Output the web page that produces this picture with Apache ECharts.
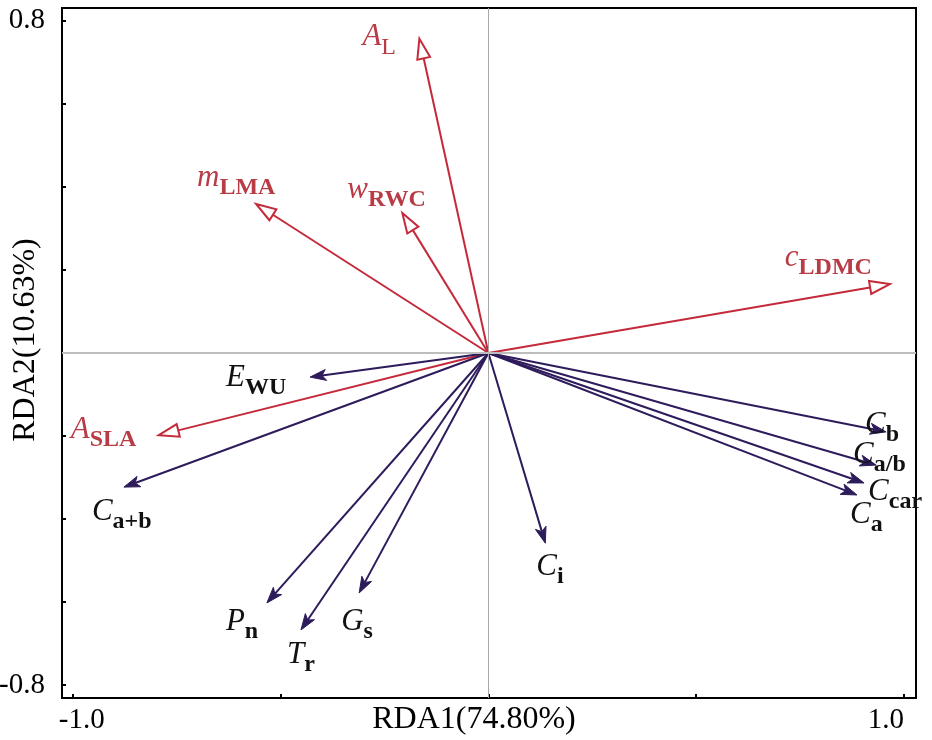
<!DOCTYPE html>
<html><head><meta charset="utf-8">
<script src="https://cdn.jsdelivr.net/npm/echarts@6/dist/echarts.min.js"></script>
<style>html,body{margin:0;padding:0;background:#fff}#c{width:932px;height:740px}</style>
</head><body><div id="c"></div>
<script>
// Environmental (red) vectors
const envMain = ['A','m','w','c','A'];
const envSub = ['L','LMA','RWC','LDMC','SLA'];
const envX = [-0.166,-0.559,-0.207,0.966,-0.793];
const envY = [0.757,0.359,0.337,0.166,-0.198];
// Response (purple) vectors
const respMain = ['E','C','P','T','G','C','C','C','C','C'];
const respSub = ['WU','a+b','n','r','s','i','b','a/b','car','a'];
const respX = [-0.429,-0.877,-0.533,-0.451,-0.311,0.137,0.957,0.933,0.904,0.887];
const respY = [-0.058,-0.323,-0.602,-0.667,-0.578,-0.458,-0.190,-0.270,-0.313,-0.342];
// Axis ticks
const xTicks = [-1,-0.5,0,0.5,1];
const xTickLabels = [-1,1];
const yTicks = [-0.8,-0.6,-0.4,-0.2,0,0.2,0.4,0.6,0.8];
const yTickLabels = [-0.8,0.8];
const xName = 'RDA1(74.80%)';
const yName = 'RDA2(10.63%)';

// layout: label offsets (px) from arrow tip
const envLabelOffset = [[-57,-5],[-59,-30],[-55,-27],[-105,-30],[-88,-9]];
const respLabelOffset = [[-84,-3],[-32,21],[-41,15],[-14,21],[-18,25],[-9,20],[-21,-11],[-23,-14],[4,5],[-7,16]];

const RED = '#C42A3A', RED_TXT = '#B83C46', PUR = '#2E1B5B', BLK = '#111';
const FONT = '"Liberation Serif","Times New Roman",serif';

function richFor(color){
  return {
    m:{fontFamily:FONT,fontStyle:'italic',fontSize:31,lineHeight:30,fill:color,verticalAlign:'top'},
    s:{fontFamily:FONT,fontWeight:'bold',fontSize:24,lineHeight:22,padding:[14,0,0,0],fill:color,verticalAlign:'top'},
    r:{fontFamily:FONT,fontSize:24,lineHeight:22,padding:[14,0,0,0],fill:color,verticalAlign:'top'}
  };
}

function makeRender(kind){
  return function(params, api){
    const i = params.dataIndex;
    const o = api.coord([0,0]);
    const p = api.coord([api.value(0), api.value(1)]);
    const dx=p[0]-o[0], dy=p[1]-o[1], len=Math.hypot(dx,dy);
    const ux=dx/len, uy=dy/len, nx=-uy, ny=ux;
    const children=[];
    let main, sub, off, color, subTok='s';
    if(kind==='env'){
      const L=20,W=13;
      const bx=p[0]-ux*L, by=p[1]-uy*L;
      children.push({type:'line',shape:{x1:o[0],y1:o[1],x2:bx,y2:by},style:{stroke:RED,lineWidth:2}});
      children.push({type:'polygon',shape:{points:[[p[0],p[1]],[bx+nx*W/2,by+ny*W/2],[bx-nx*W/2,by-ny*W/2]]},style:{fill:'#fff',stroke:RED,lineWidth:2}});
      main=envMain[i]; sub=envSub[i]; off=envLabelOffset[i]; color=RED_TXT;
      if(sub==='L') subTok='r';
    } else {
      const L=16,W=11,N=4;
      const bx=p[0]-ux*L, by=p[1]-uy*L;
      const kx=p[0]-ux*(L-N), ky=p[1]-uy*(L-N);
      children.push({type:'line',shape:{x1:o[0],y1:o[1],x2:kx,y2:ky},style:{stroke:PUR,lineWidth:2}});
      children.push({type:'polygon',shape:{points:[[p[0],p[1]],[bx+nx*W/2,by+ny*W/2],[kx,ky],[bx-nx*W/2,by-ny*W/2]]},style:{fill:PUR,stroke:PUR,lineWidth:1}});
      main=respMain[i]; sub=respSub[i]; off=respLabelOffset[i]; color=BLK;
    }
    children.push({type:'text',x:p[0]+off[0],y:p[1]+off[1]+3,style:{
      text:'{m|'+main+'}{'+subTok+'|'+sub+'}',rich:richFor(color),align:'left',verticalAlign:'middle'}});
    return {type:'group',children};
  };
}

const chart = echarts.init(document.getElementById('c'));
chart.setOption({
  animation:false,
  backgroundColor:'#fff',
  grid:{left:62,right:16,top:8,bottom:42,containLabel:false,outerBoundsMode:'none',
    show:true,borderColor:'#000',borderWidth:2,backgroundColor:'transparent'},
  xAxis:{type:'value',min:-1.026,max:1.029,
    name:xName,nameLocation:'middle',nameGap:6,nameMoveOverlap:false,
    nameTextStyle:{fontFamily:FONT,fontSize:32,color:'#000',padding:[0,30,0,0],verticalAlign:'top'},
    axisLine:{show:true,onZero:false,lineStyle:{color:'#000',width:2}},
    axisTick:{show:true,inside:true,length:4,customValues:xTicks,lineStyle:{color:'#000',width:2}},
    axisLabel:{show:true,customValues:xTickLabels,margin:8,
      formatter:v=> v<0 ? '{l|-1.0}' : '{r|1.0}',
      rich:{l:{fontFamily:FONT,fontSize:29,color:'#000',padding:[0,0,0,18]},
            r:{fontFamily:FONT,fontSize:29,color:'#000',padding:[0,36,0,0]}}},
    splitLine:{show:false}},
  yAxis:{type:'value',min:-0.831,max:0.831,
    name:yName,nameLocation:'middle',nameGap:20,nameMoveOverlap:false,
    nameTextStyle:{fontFamily:FONT,fontSize:32,color:'#000',padding:[0,0,0,26]},
    axisLine:{show:true,onZero:false,lineStyle:{color:'#000',width:2}},
    axisTick:{show:true,inside:true,length:4,customValues:yTicks,lineStyle:{color:'#000',width:2}},
    axisLabel:{show:true,customValues:yTickLabels,margin:17,fontFamily:FONT,fontSize:29,color:'#000',
      formatter:v=>v.toFixed(1)},
    splitLine:{show:false}},
  series:[
    {type:'line',data:[],z:1,silent:true,
     markLine:{silent:true,symbol:['none','none'],label:{show:false},animation:false,
       data:[{xAxis:0,lineStyle:{color:'#a8a8a8',width:1,type:'solid'}},
             {yAxis:0,lineStyle:{color:'#bdbdbd',width:2,type:'solid'}}]}},
    {type:'custom',z:3,silent:true,renderItem:makeRender('env'),
     data:envX.map((x,i)=>[x,envY[i]]),encode:{x:0,y:1}},
    {type:'custom',z:3,silent:true,renderItem:makeRender('resp'),
     data:respX.map((x,i)=>[x,respY[i]]),encode:{x:0,y:1}}
  ]
});
</script></body></html>
